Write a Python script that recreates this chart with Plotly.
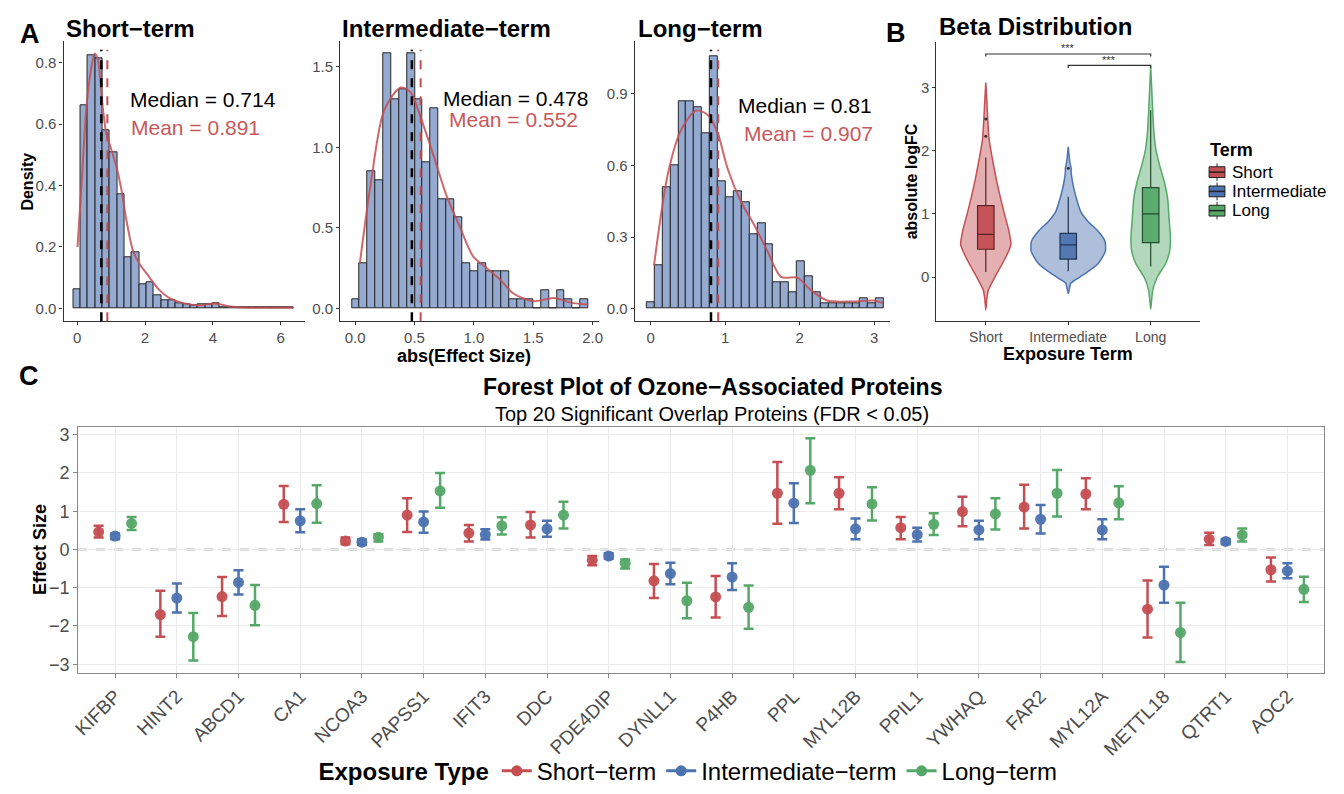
import plotly.graph_objects as go

W, H = 1344, 794
FONT = "Liberation Sans, Arial, Helvetica, sans-serif"
RED, BLUE, GREEN = "#C44E52", "#4C72B0", "#55A868"
RED_A, BLUE_A, GREEN_A = "rgba(196,78,82,0.45)", "rgba(76,114,176,0.45)", "rgba(85,168,104,0.45)"
HIST_FILL = "#94AAD0"
GRAY_TXT = "#4D4D4D"

# ---------------- Panel A data ----------------
short_bin_start, short_bin_w = -0.115, 0.216
short_heights = [0.063, 0.662, 0.825, 0.815, 0.58, 0.51, 0.37, 0.165, 0.183, 0.08,
                 0.085, 0.042, 0.027, 0.027, 0.016, 0.012, 0.01, 0.012, 0.012, 0.018,
                 0.005, 0.003, 0.002, 0.002, 0.002, 0.002, 0.002, 0.002, 0.002, 0.005]
short_dens_x = [0.01, 0.13, 0.27, 0.42, 0.52, 0.61, 0.76, 0.86, 1.0, 1.15, 1.30, 1.44,
                1.64, 1.83, 2.12, 2.41, 2.71, 3.10, 3.58, 4.07, 4.46, 5.04, 5.73, 6.38]
short_dens_y = [0.20, 0.40, 0.65, 0.785, 0.83, 0.81, 0.65, 0.57, 0.52, 0.465, 0.39, 0.295,
                0.19, 0.146, 0.103, 0.061, 0.034, 0.018, 0.01, 0.016, 0.007, 0.002, 0.002, 0.002]
short_median, short_mean = 0.714, 0.891

inter_bin_start, inter_bin_w = -0.028, 0.0664
inter_heights = [0.059, 0.28, 0.85, 0.795, 1.58, 1.30, 1.357, 1.58, 1.30, 0.907,
                 1.243, 0.677, 0.677, 0.568, 0.28, 0.229, 0.28, 0.229, 0.229, 0.229,
                 0.059, 0.059, 0.059, 0.003, 0.115, 0.003, 0.115, 0.059, 0.003, 0.059]
inter_dens_x = [0.04, 0.134, 0.245, 0.384, 0.468, 0.55, 0.66, 0.77, 0.886, 0.997, 1.11,
                1.22, 1.33, 1.5, 1.67, 1.83, 1.96]
inter_dens_y = [0.28, 0.785, 1.23, 1.37, 1.34, 1.19, 0.95, 0.70, 0.50, 0.32, 0.25,
                0.18, 0.095, 0.045, 0.065, 0.035, 0.025]
inter_median, inter_mean = 0.478, 0.552

long_bin_start, long_bin_w = -0.053, 0.1062
long_heights = [0.026, 0.18, 0.51, 0.60, 0.867, 0.867, 0.845, 0.733, 1.057, 0.535,
                0.467, 0.49, 0.445, 0.312, 0.356, 0.268, 0.112, 0.112, 0.07, 0.20,
                0.135, 0.07, 0.023, 0.023, 0.023, 0.023, 0.023, 0.044, 0.023, 0.044]
long_dens_x = [0.044, 0.235, 0.41, 0.61, 0.77, 0.90, 1.035, 1.21, 1.39, 1.57, 1.75,
               1.97, 2.15, 2.37, 2.72, 2.99, 3.12]
long_dens_y = [0.18, 0.57, 0.75, 0.83, 0.81, 0.735, 0.585, 0.45, 0.35, 0.24, 0.133,
               0.13, 0.078, 0.034, 0.03, 0.034, 0.023]
long_median, long_mean = 0.81, 0.907

# ---------------- Panel B data ----------------
terms = ["Short", "Intermediate", "Long"]
short_vy = [-0.52, -0.35, -0.21, 0.0, 0.21, 0.42, 0.52, 0.73, 0.98, 1.24, 1.55, 1.87, 2.18, 2.49, 2.80, 3.08]
short_vw = [0, 0.012, 0.03, 0.11, 0.2, 0.28, 0.305, 0.28, 0.23, 0.18, 0.127, 0.08, 0.04, 0.024, 0.012, 0]
inter_vy = [-0.26, -0.10, -0.05, 0.05, 0.21, 0.41, 0.57, 0.73, 0.88, 1.04, 1.24, 1.45, 1.66, 1.72, 1.81, 2.06]
inter_vw = [0, 0.03, 0.08, 0.2, 0.36, 0.45, 0.445, 0.36, 0.24, 0.15, 0.10, 0.06, 0.035, 0.035, 0.02, 0]
long_vy = [-0.51, -0.21, 0.0, 0.21, 0.41, 0.6, 0.73, 0.98, 1.24, 1.5, 1.76, 2.02, 2.28, 2.64, 3.0, 3.34]
long_vw = [0, 0.024, 0.08, 0.18, 0.23, 0.24, 0.235, 0.22, 0.206, 0.167, 0.11, 0.063, 0.04, 0.024, 0.012, 0]
box_lower = [0.08, 0.09, 0.166]
box_q1 = [0.44, 0.285, 0.545]
box_median = [0.675, 0.51, 1.0]
box_q3 = [1.13, 0.69, 1.415]
box_upper = [1.89, 1.27, 2.64]
outliers = [[2.23, 2.5], [1.72], []]
sig_pairs = [(1, 3, 3.53, "***"), (2, 3, 3.35, "***")]

# ---------------- Panel C data ----------------
proteins = ["KIFBP", "HINT2", "ABCD1", "CA1", "NCOA3", "PAPSS1", "IFIT3", "DDC", "PDE4DIP", "DYNLL1",
            "P4HB", "PPL", "MYL12B", "PPIL1", "YWHAQ", "FAR2", "MYL12A", "METTL18", "QTRT1", "AOC2"]
short_est = [0.46, -1.70, -1.23, 1.18, 0.22, 0.90, 0.43, 0.64, -0.28, -0.82,
             -1.24, 1.47, 1.47, 0.57, 0.99, 1.11, 1.45, -1.56, 0.27, -0.53]
short_lo = [0.31, -2.28, -1.74, 0.72, 0.14, 0.46, 0.21, 0.31, -0.41, -1.27,
            -1.78, 0.67, 1.05, 0.27, 0.61, 0.55, 1.05, -2.30, 0.12, -0.84]
short_hi = [0.62, -1.08, -0.72, 1.66, 0.31, 1.34, 0.64, 0.98, -0.17, -0.38,
            -0.69, 2.29, 1.89, 0.85, 1.38, 1.69, 1.86, -0.81, 0.44, -0.21]
inter_est = [0.35, -1.27, -0.86, 0.75, 0.19, 0.72, 0.39, 0.54, -0.17, -0.63,
             -0.72, 1.21, 0.54, 0.39, 0.51, 0.79, 0.51, -0.93, 0.21, -0.56]
inter_lo = [0.27, -1.65, -1.18, 0.45, 0.12, 0.44, 0.26, 0.33, -0.24, -0.91,
            -1.06, 0.69, 0.27, 0.21, 0.27, 0.42, 0.27, -1.39, 0.14, -0.75]
inter_hi = [0.42, -0.89, -0.54, 1.05, 0.26, 0.99, 0.53, 0.75, -0.10, -0.35,
            -0.36, 1.73, 0.81, 0.57, 0.75, 1.16, 0.79, -0.45, 0.27, -0.36]
long_est = [0.68, -2.28, -1.46, 1.20, 0.32, 1.53, 0.62, 0.90, -0.36, -1.34,
            -1.51, 2.07, 1.19, 0.66, 0.93, 1.47, 1.22, -2.17, 0.38, -1.04]
long_lo = [0.51, -2.90, -1.98, 0.70, 0.21, 1.09, 0.39, 0.55, -0.50, -1.80,
           -2.07, 1.21, 0.76, 0.38, 0.52, 0.86, 0.79, -2.94, 0.21, -1.37]
long_hi = [0.85, -1.66, -0.93, 1.68, 0.40, 2.00, 0.84, 1.25, -0.26, -0.87,
           -0.94, 2.91, 1.63, 0.95, 1.34, 2.08, 1.65, -1.39, 0.55, -0.71]
exposure_names = ["Short\u2212term", "Intermediate\u2212term", "Long\u2212term"]


def px(x):
    return x / W


def py(y):
    return 1 - y / H


fig = go.Figure()

# ---------- Panel A ----------
hists = [
    ("x", "y", short_bin_start, short_bin_w, short_heights, short_dens_x, short_dens_y, short_median, short_mean),
    ("x2", "y2", inter_bin_start, inter_bin_w, inter_heights, inter_dens_x, inter_dens_y, inter_median, inter_mean),
    ("x3", "y3", long_bin_start, long_bin_w, long_heights, long_dens_x, long_dens_y, long_median, long_mean),
]
for xa, ya, b0, bw, hts, dx, dy, med, mn in hists:
    centers = [b0 + bw * (i + 0.5) for i in range(len(hts))]
    fig.add_trace(go.Bar(x=centers, y=hts, width=bw, xaxis=xa, yaxis=ya,
                         marker=dict(color=HIST_FILL, line=dict(color="#262626", width=1)),
                         showlegend=False, hoverinfo="skip"))
    fig.add_trace(go.Scatter(x=dx, y=dy, xaxis=xa, yaxis=ya, mode="lines",
                             line=dict(color="rgba(196,78,82,0.85)", width=2, shape="spline", smoothing=0.8),
                             showlegend=False, hoverinfo="skip"))
    yd = ya + " domain"
    fig.add_shape(type="line", xref=xa, yref=yd, x0=med, x1=med, y0=0, y1=0.97,
                  line=dict(color="black", width=2.5, dash="dash"))
    fig.add_shape(type="line", xref=xa, yref=yd, x0=mn, x1=mn, y0=0, y1=0.97,
                  line=dict(color=RED, width=2, dash="dash"))

# median / mean labels (data-positioned)
labels_A = [("x", "y", 3.7, 0.68, 3.5, 0.59, short_median, short_mean),
            ("x2", "y2", 1.35, 1.30, 1.33, 1.17, inter_median, inter_mean),
            ("x3", "y3", 2.07, 0.85, 2.12, 0.735, long_median, long_mean)]
for xa, ya, mx, my, ex, ey, med, mn in labels_A:
    fig.add_annotation(x=mx, y=my, xref=xa, yref=ya, text=f"Median = {med}", showarrow=False,
                       font=dict(size=21, color="black"))
    fig.add_annotation(x=ex, y=ey, xref=xa, yref=ya, text=f"Mean = {mn}", showarrow=False,
                       font=dict(size=21, color="#C8585C"))


def classic_axis(domain, rng, tickvals, ticktext=None, anchor=None):
    d = dict(domain=domain, range=rng, showline=True, linecolor="#333333", linewidth=1.2,
             ticks="outside", ticklen=3, tickcolor="#333333", tickwidth=1,
             tickfont=dict(size=15, color=GRAY_TXT), showgrid=False, zeroline=False,
             tickvals=tickvals, anchor=anchor)
    if ticktext is not None:
        d["ticktext"] = ticktext
    return d


yA = [py(325), py(40)]
fig.update_layout(
    xaxis=classic_axis([px(57), px(300)], [-0.40, 6.7], [0, 2, 4, 6], anchor="y"),
    yaxis=classic_axis(yA, [-0.042, 0.87], [0, 0.2, 0.4, 0.6, 0.8], ["0.0", "0.2", "0.4", "0.6", "0.8"], anchor="x"),
    xaxis2=classic_axis([px(336), px(597)], [-0.125, 2.055], [0, 0.5, 1, 1.5, 2],
                        ["0.0", "0.5", "1.0", "1.5", "2.0"], anchor="y2"),
    yaxis2=classic_axis(yA, [-0.079, 1.657], [0, 0.5, 1, 1.5], ["0.0", "0.5", "1.0", "1.5"], anchor="x2"),
    xaxis3=classic_axis([px(633), px(890)], [-0.213, 3.21], [0, 1, 2, 3], anchor="y3"),
    yaxis3=classic_axis(yA, [-0.053, 1.12], [0, 0.3, 0.6, 0.9], ["0.0", "0.3", "0.6", "0.9"], anchor="x3"),
    xaxis4=classic_axis([px(937), px(1203)], [0.4, 3.6], [1, 2, 3], terms, anchor="y4"),
    yaxis4=classic_axis([py(325), py(40.7)], [-0.70, 3.72], [0, 1, 2, 3], anchor="x4"),
)
fig.update_layout(xaxis4=dict(tickfont=dict(size=14, color=GRAY_TXT)))

# ---------- Panel B ----------
vdata = [(short_vy, short_vw, RED, RED_A), (inter_vy, inter_vw, BLUE, BLUE_A), (long_vy, long_vw, GREEN, GREEN_A)]
for i, (vy, vw, col, cola) in enumerate(vdata):
    c = i + 1
    xs = [c + w for w in vw] + [c - w for w in reversed(vw)]
    ys = list(vy) + list(reversed(vy))
    fig.add_trace(go.Scatter(x=xs, y=ys, xaxis="x4", yaxis="y4", mode="lines", fill="toself",
                             fillcolor=cola, line=dict(color=col, width=1.5, shape="spline", smoothing=0.6),
                             showlegend=False, hoverinfo="skip"))
box_fill = ["rgba(196,78,82,0.92)", "rgba(76,114,176,0.92)", "rgba(85,168,104,0.92)"]
for i in range(3):
    fig.add_trace(go.Box(x=[i + 1], q1=[box_q1[i]], median=[box_median[i]], q3=[box_q3[i]],
                         lowerfence=[box_lower[i]], upperfence=[box_upper[i]], width=0.2,
                         xaxis="x4", yaxis="y4", fillcolor=box_fill[i],
                         line=dict(color="black", width=1.2), whiskerwidth=0,
                         boxpoints=False, showlegend=False, hoverinfo="skip"))
    if outliers[i]:
        fig.add_trace(go.Scatter(x=[i + 1] * len(outliers[i]), y=outliers[i], xaxis="x4", yaxis="y4",
                                 mode="markers", marker=dict(color="#333", size=3),
                                 showlegend=False, hoverinfo="skip"))
for a, b, yv, lab in sig_pairs:
    fig.add_trace(go.Scatter(x=[a, a, b, b], y=[yv - 0.04, yv, yv, yv - 0.04], xaxis="x4", yaxis="y4",
                             mode="lines", line=dict(color="#333", width=1.2),
                             showlegend=False, hoverinfo="skip"))
    fig.add_annotation(x=(a + b) / 2, y=yv + 0.09, xref="x4", yref="y4", text=lab, showarrow=False,
                       font=dict(size=11, color="#333"))

# manual legend for "Term"
fig.add_annotation(x=px(1211), y=py(151), xref="paper", yref="paper", text="<b>Term</b>",
                   showarrow=False, xanchor="left", yanchor="middle", font=dict(size=18, color="black"))
for i, (t, col) in enumerate(zip(terms, [RED, BLUE, GREEN])):
    yc = 173.2 + 19.6 * i
    fig.add_shape(type="line", xref="paper", yref="paper", x0=px(1220), x1=px(1220),
                  y0=py(yc - 9), y1=py(yc + 9), line=dict(color="#333", width=1))
    fig.add_shape(type="rect", xref="paper", yref="paper", x0=px(1212), x1=px(1228),
                  y0=py(yc + 5.5), y1=py(yc - 5.5), fillcolor=col, line=dict(color="#222", width=1))
    fig.add_shape(type="line", xref="paper", yref="paper", x0=px(1212), x1=px(1228),
                  y0=py(yc), y1=py(yc), line=dict(color="#222", width=1.5))
    fig.add_annotation(x=px(1233), y=py(yc), xref="paper", yref="paper", text=t, showarrow=False,
                       xanchor="left", yanchor="middle", font=dict(size=17, color="black"))

# ---------- Panel C ----------
offsets = [-0.267, 0.0, 0.267]
series = [(short_est, short_lo, short_hi, RED), (inter_est, inter_lo, inter_hi, BLUE),
          (long_est, long_lo, long_hi, GREEN)]
for (est, lo, hi, col), off, nm in zip(series, offsets, exposure_names):
    xs = [i + 1 + off for i in range(len(proteins))]
    fig.add_trace(go.Scatter(x=xs, y=est, xaxis="x5", yaxis="y5", mode="markers",
                             marker=dict(color=col, size=11, opacity=0.95),
                             error_y=dict(type="data", symmetric=False,
                                          array=[h - e for h, e in zip(hi, est)],
                                          arrayminus=[e - l for e, l in zip(est, lo)],
                                          color=col, thickness=2.5, width=5),
                             showlegend=False, hoverinfo="skip"))
    fig.add_trace(go.Scatter(x=[None], y=[None], xaxis="x5", yaxis="y5", mode="lines+markers",
                             marker=dict(color=col, size=11), line=dict(color=col, width=3),
                             name=nm, showlegend=True))

fig.add_shape(type="line", xref="x5 domain", yref="y5", x0=0, x1=1, y0=0, y1=0,
              line=dict(color="#666", width=1.6, dash="dash"), layer="below")

fig.update_layout(
    xaxis5=dict(domain=[px(71.7), px(1328.3)], range=[0.4, 20.6], anchor="y5",
                tickvals=list(range(1, len(proteins) + 1)), ticktext=proteins, tickangle=-45,
                tickfont=dict(size=19, color=GRAY_TXT), showline=True, mirror=True,
                linecolor="#888", linewidth=1.2, showgrid=True, gridcolor="#EBEBEB", gridwidth=1,
                ticks="outside", ticklen=4, tickcolor="#888", zeroline=False),
    yaxis5=dict(domain=[py(682.7), py(432.7)], range=[-3.22, 3.2], anchor="x5",
                tickvals=[-3, -2, -1, 0, 1, 2, 3], ticktext=["\u22123", "\u22122", "\u22121", "0", "1", "2", "3"],
                tickfont=dict(size=18, color=GRAY_TXT), showline=True, mirror=True,
                linecolor="#888", linewidth=1.2, showgrid=True, gridcolor="#EBEBEB", gridwidth=1,
                ticks="outside", ticklen=4, tickcolor="#888", zeroline=False),
)


# ---------- Text annotations ----------
def ann(x, y, text, size, bold=False, xanchor="center", yanchor="middle", color="black", angle=0):
    fig.add_annotation(x=px(x), y=py(y), xref="paper", yref="paper",
                       text=f"<b>{text}</b>" if bold else text, showarrow=False,
                       xanchor=xanchor, yanchor=yanchor, textangle=angle,
                       font=dict(size=size, color=color))


ann(23, 33, "A", 27, bold=True)
ann(57, 27, "Short\u2212term", 24, bold=True, xanchor="left")
ann(336, 27, "Intermediate\u2212term", 24, bold=True, xanchor="left")
ann(634, 27, "Long\u2212term", 24, bold=True, xanchor="left")
ann(21, 183, "Density", 16, bold=True, angle=-90)
ann(461, 360, "abs(Effect Size)", 18, bold=True)
ann(896, 32, "B", 27, bold=True)
ann(938, 25, "Beta Distribution", 24, bold=True, xanchor="left")
ann(912, 183, "absolute logFC", 16, bold=True, angle=-90)
ann(1070, 358, "Exposure Term", 18, bold=True)
ann(22, 381, "C", 27, bold=True)
ann(711, 392, "Forest Plot of Ozone\u2212Associated Proteins", 23, bold=True)
ann(711, 419, "Top 20 Significant Overlap Proteins (FDR &lt; 0.05)", 20)
ann(33, 557, "Effect Size", 18, bold=True, angle=-90)

fig.update_layout(
    autosize=True, margin=dict(l=0, r=0, t=0, b=0, pad=0),
    paper_bgcolor="white", plot_bgcolor="white",
    font=dict(family=FONT, color="black"),
    bargap=0, barmode="overlay",
    legend=dict(orientation="h", x=0.512, xanchor="center", y=py(783), yanchor="middle",
                title=dict(text="<b>Exposure Type</b>", font=dict(size=24), side="left"),
                font=dict(size=24), itemwidth=30, bgcolor="rgba(0,0,0,0)", tracegroupgap=0),
)

post = (
    "var de=document.documentElement, b=document.body;"
    "de.style.margin='0';de.style.padding='0';de.style.overflow='hidden';"
    "b.style.margin='0';b.style.padding='0';b.style.overflow='hidden';"
    "var gd=document.getElementById('{plot_id}');"
    "gd.style.width='100vw';gd.style.height='100vh';"
    "Plotly.relayout(gd,{width:window.innerWidth,height:window.innerHeight});"
)
fig.write_html("out.html", default_width="100vw", default_height="100vh",
               config={"displayModeBar": False, "responsive": True},
               post_script=post)
